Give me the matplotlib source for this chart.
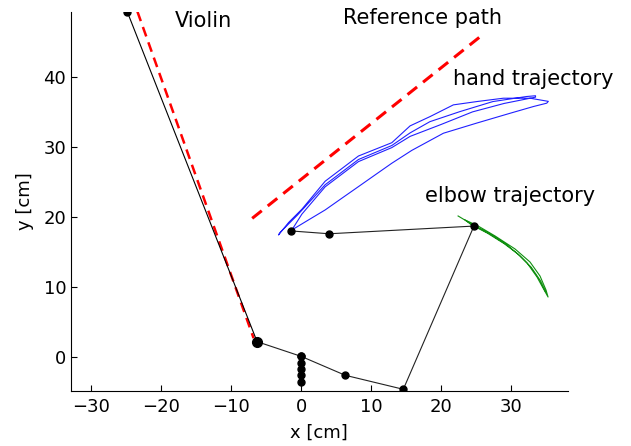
import numpy as np
import matplotlib
matplotlib.use("Agg")
import matplotlib.pyplot as plt

matplotlib.rcParams['font.family'] = "DejaVu Sans"
matplotlib.rcParams['font.size'] = 13

# arm / violin skeleton (cm)
violin_x = [-24.86, -6.3]
violin_y = [49.3, 2.2]
arm_x = [-6.3, 0.0, 6.3, 14.6, 24.7, 4.0, -1.4]
arm_y = [2.2, 0.1, -2.6, -4.6, 18.7, 17.6, 18.0]
col_x = [0, 0, 0, 0, 0]
col_y = [0.1, -0.8, -1.7, -2.6, -3.6]

# red dashed reference lines
violin_ref_x = [-23.4, -6.8]
violin_ref_y = [49.3, 2.7]
ref_path_x = [-7.0, 26.3]
ref_path_y = [19.8, 46.3]

# hand trajectory (bow strokes: out low, back high, out, back)
hand_x = [-1.33, 1.04, 3.43, 5.81, 8.19, 10.57, 12.96, 15.81, 20.33, 25.1, 29.86, 33.19, 35.1, 35.33,
          32.71, 28.9, 25.1, 21.76, 18.43, 15.57, 12.96, 8.19, 3.43, 0.1, -1.8, -3.24,
          -3.0, -0.5, 3.43, 8.19, 12.96, 15.57, 18.4, 22.7, 27.4, 32.2, 33.5,
          33.5, 29.0, 24.5, 20.0, 15.57, 12.96, 8.19, 3.43, 0.1, -1.33]
hand_y = [18.14, 19.57, 21.0, 22.67, 24.33, 26.0, 27.67, 29.5, 31.95, 33.4, 34.8, 35.76, 36.24, 36.5,
          36.95, 36.95, 36.47, 36.0, 34.33, 33.0, 30.6, 28.7, 25.1, 21.1, 19.2, 17.43,
          17.8, 20.3, 24.6, 28.2, 30.2, 32.0, 33.6, 35.04, 36.47, 37.19, 37.3,
          37.1, 36.2, 35.0, 33.2, 31.5, 29.9, 27.9, 24.3, 20.4, 18.14]

# elbow trajectory
elbow_x = [22.43, 24.57, 27.0, 29.43, 31.29, 32.29, 33.71, 34.57, 35.29,
           35.0, 34.14, 32.71, 30.57, 27.71, 25.29, 23.43,
           24.3, 26.6, 29.0, 31.0, 32.9, 34.2, 34.9]
elbow_y = [20.14, 18.86, 17.57, 16.0, 14.43, 13.43, 11.43, 9.86, 8.57,
           9.57, 11.57, 13.57, 15.43, 17.29, 18.71, 19.57,
           18.9, 17.7, 16.2, 14.7, 12.8, 10.9, 9.4]

fig = plt.figure(figsize=(6.31, 4.46), dpi=100)
ax = fig.add_axes([0.1125, 0.124, 0.7872, 0.8498])

ax.plot(violin_ref_x, violin_ref_y, color="red", lw=1.8, dashes=(4, 2.5))
ax.plot(ref_path_x, ref_path_y, color="red", lw=2.2, dashes=(4, 2.5))
ax.plot(hand_x, hand_y, color="#2020ff", lw=0.8)
ax.plot(elbow_x, elbow_y, color="#109010", lw=0.8)

ax.plot(violin_x, violin_y, color="black", lw=0.8, marker="o", ms=5)
ax.plot(arm_x, arm_y, color="#222222", lw=0.8, marker="o", ms=5, mfc="black", mec="black")
ax.plot([-6.3], [2.2], "o", color="black", ms=7)
ax.plot(col_x, col_y, "o", color="black", ms=5)

ax.text(-18.0, 47.9, "Violin", va="center", fontsize=15)
ax.text(6.0, 48.4, "Reference path", va="center", fontsize=15)
ax.text(21.7, 39.7, "hand trajectory", va="center", fontsize=15)
ax.text(17.7, 23.0, "elbow trajectory", va="center", fontsize=15)

ax.set_xlim(-32.9, 38.1)
ax.set_ylim(-4.8, 49.3)
ax.set_xticks([-30, -20, -10, 0, 10, 20, 30])
ax.set_yticks([0, 10, 20, 30, 40])
ax.tick_params(direction="in", length=4, width=0.8)
ax.tick_params(axis="x", pad=5)
ax.spines["top"].set_visible(False)
ax.spines["right"].set_visible(False)
ax.set_xlabel("x [cm]", labelpad=6)
ax.set_ylabel("y [cm]", labelpad=7)

plt.savefig("out.png", dpi=100)
